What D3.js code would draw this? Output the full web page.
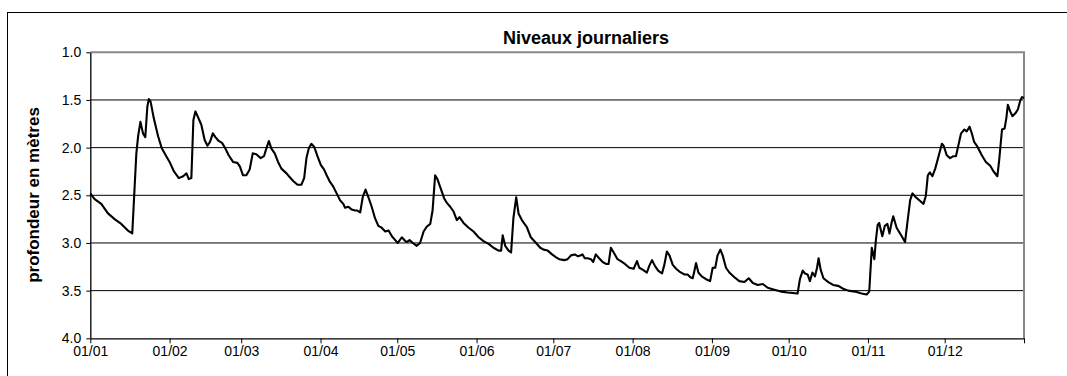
<!DOCTYPE html>
<html>
<head>
<meta charset="utf-8">
<script src="https://cdn.jsdelivr.net/npm/d3@7"></script>
<style>
  html, body { margin: 0; padding: 0; background: #fff; }
  svg { display: block; font-family: "Liberation Sans", Arial, sans-serif; }
</style>
</head>
<body>
<svg id="chart" width="1067" height="376"></svg>
<script>
// ---- Data ----
const chartTitle = "Niveaux journaliers";
const yAxisTitle = "profondeur en mètres";
const monthLabels = ["01/01","01/02","01/03","01/04","01/05","01/06","01/07","01/08","01/09","01/10","01/11","01/12",""];
const monthStartDays = [0,31,59,90,120,151,181,212,243,273,304,334,365];
const depthTicks = [1.0,1.5,2.0,2.5,3.0,3.5,4.0];
const dayOfYear = [
0,1.7,4.3,6.9,9.5,12.1,14.7,16.4,18.0,18.7,19.6,20.6,21.5,22.3,22.9,23.6,24.8,26.5,28.0,29.7,
31.0,32.7,34.6,36.3,37.6,38.5,39.5,40.3,41.1,42.1,43.4,44.7,45.8,46.8,47.9,48.9,50.2,51.5,52.8,54.1,
55.8,57.5,58.5,59.7,61.0,62.3,63.5,64.9,66.6,67.9,68.8,69.8,70.8,72.1,73.4,74.7,76.7,78.0,79.3,81.0,
82.5,83.6,84.5,85.4,86.4,87.5,88.8,90.1,91.4,92.4,93.7,95.0,96.3,97.6,98.9,99.6,100.9,102.2,103.5,104.4,
105.5,106.5,107.6,108.7,110.0,111.3,112.6,113.9,115.3,116.6,117.9,119.2,120.2,121.8,123.1,123.7,124.8,126.1,127.6,128.9,
130.3,131.5,132.9,133.8,134.8,135.7,137.0,138.3,139.4,140.7,142.0,143.3,144.3,145.9,147.9,149.8,151.8,153.7,155.7,157.6,
159.6,160.6,161.2,162.2,163.5,164.5,165.4,166.5,167.4,168.7,170.6,172.2,173.9,175.9,177.2,178.8,180.5,182.1,183.3,185.3,
186.6,187.9,189.4,190.7,191.8,192.4,193.3,194.4,195.7,196.6,197.6,198.9,200.3,201.6,202.6,203.5,204.6,206.1,207.4,209.0,
210.7,212.4,212.9,213.7,214.6,215.9,217.6,218.5,219.6,220.7,222.0,223.5,224.4,225.4,226.4,227.7,229.0,230.3,232.2,233.5,
234.6,235.5,236.1,236.8,237.7,239.0,240.7,242.3,243.3,244.3,245.2,246.3,247.2,248.5,249.8,251.8,253.7,255.7,257.4,259.0,
260.9,262.9,264.8,267.4,270.0,272.6,276.5,277.4,278.5,279.4,280.4,281.3,282.3,283.3,284.1,284.7,285.5,286.6,288.5,290.4,
292.4,294.3,296.3,298.9,301.5,303.5,304.5,305.5,306.5,307.1,307.8,308.4,309.6,310.6,311.6,312.4,313.3,313.9,315.2,317.2,
318.5,319.4,320.5,321.4,322.7,324.4,325.7,326.6,327.4,328.2,329.2,330.3,331.6,332.9,333.6,334.8,336.1,337.4,338.4,339.4,
340.4,341.7,342.6,343.7,344.6,345.5,346.8,348.5,350.1,351.8,353.1,354.6,355.3,356.4,357.4,358.1,358.7,359.6,360.5,361.6,
362.6,363.5,364.2,365.0
];
const depth = [
2.48,2.54,2.59,2.69,2.75,2.80,2.87,2.90,2.06,1.88,1.73,1.85,1.89,1.57,1.49,1.52,1.69,1.88,2.01,2.09,
2.15,2.25,2.32,2.30,2.27,2.33,2.32,1.71,1.62,1.68,1.76,1.92,1.98,1.94,1.85,1.89,1.93,1.95,2.01,2.08,
2.15,2.16,2.20,2.29,2.29,2.23,2.06,2.07,2.11,2.09,2.01,1.93,2.01,2.06,2.15,2.22,2.27,2.31,2.35,2.39,
2.39,2.32,2.11,2.01,1.96,1.99,2.09,2.18,2.23,2.29,2.36,2.41,2.48,2.55,2.59,2.63,2.62,2.65,2.66,2.66,
2.68,2.52,2.44,2.52,2.62,2.74,2.82,2.84,2.88,2.87,2.93,2.97,3.00,2.94,2.98,2.99,2.97,3.00,3.03,3.00,
2.88,2.83,2.80,2.66,2.29,2.33,2.43,2.53,2.58,2.62,2.67,2.76,2.73,2.79,2.84,2.88,2.94,2.98,3.01,3.05,
3.08,3.08,2.92,3.03,3.08,3.10,2.74,2.52,2.69,2.76,2.83,2.94,2.99,3.05,3.07,3.08,3.12,3.15,3.17,3.18,
3.17,3.13,3.12,3.14,3.13,3.12,3.16,3.16,3.17,3.20,3.12,3.16,3.20,3.22,3.22,3.05,3.10,3.17,3.19,3.22,
3.26,3.27,3.24,3.19,3.26,3.28,3.31,3.24,3.18,3.24,3.29,3.32,3.23,3.09,3.13,3.23,3.27,3.30,3.33,3.33,
3.36,3.37,3.30,3.21,3.31,3.35,3.38,3.40,3.26,3.26,3.13,3.07,3.13,3.26,3.31,3.36,3.40,3.41,3.37,3.42,
3.44,3.43,3.47,3.49,3.51,3.52,3.53,3.38,3.29,3.32,3.33,3.40,3.31,3.35,3.26,3.16,3.28,3.37,3.41,3.44,
3.45,3.48,3.50,3.51,3.53,3.54,3.51,3.05,3.17,2.97,2.81,2.79,2.93,2.82,2.80,2.90,2.78,2.72,2.84,2.93,
2.99,2.79,2.55,2.48,2.52,2.56,2.59,2.51,2.29,2.26,2.30,2.22,2.09,1.96,1.98,2.08,2.11,2.09,2.09,1.97,
1.85,1.81,1.83,1.78,1.85,1.94,1.99,2.08,2.15,2.19,2.25,2.30,2.13,1.81,1.80,1.69,1.55,1.62,1.67,1.64,
1.60,1.51,1.47,1.48
];

// ---- Layout ----
const svg = d3.select("#chart");
const plotL = 90.3, plotR = 1024, plotT = 52.3, plotB = 338.3;

const x = d3.scaleLinear().domain([0, 365]).range([plotL, plotR]);
const y = d3.scaleLinear().domain([1.0, 4.0]).range([plotT, plotB]);

// Outer chart frame (only left and top edges fall inside the picture)
svg.append("rect")
  .attr("x", 7.5).attr("y", 12.5)
  .attr("width", 1200).attr("height", 500)
  .attr("fill", "none").attr("stroke", "#000").attr("stroke-width", 1);

// Title
svg.append("text")
  .attr("x", 586).attr("y", 43.5)
  .attr("text-anchor", "middle")
  .attr("font-weight", "bold")
  .attr("font-size", 18)
  .text(chartTitle);

// Horizontal gridlines
svg.append("g").selectAll("line")
  .data(depthTicks.filter(d => d > 1.0 && d < 4.0))
  .join("line")
  .attr("x1", plotL).attr("x2", plotR)
  .attr("y1", d => y(d)).attr("y2", d => y(d))
  .attr("stroke", "#000").attr("stroke-width", 1);

// Plot area border (gray top / right)
svg.append("path")
  .attr("d", `M${plotL},${plotT}H${plotR}V${plotB}`)
  .attr("fill", "none").attr("stroke", "#888").attr("stroke-width", 2);

// Y axis
const yAxis = d3.axisLeft(y).tickValues(depthTicks).tickFormat(d3.format(".1f")).tickSize(4).tickSizeOuter(0);
const gy = svg.append("g").attr("transform", `translate(${plotL},0)`).call(yAxis);
gy.select(".domain").attr("stroke", "#000").attr("stroke-width", 1.3);
gy.selectAll(".tick line").attr("stroke", "#000");
gy.selectAll(".tick text").attr("font-size", 14).attr("font-family", "Liberation Sans, Arial, sans-serif").attr("fill", "#000").attr("x", -9);

// X axis
const xAxis = d3.axisBottom(x).tickValues(monthStartDays)
  .tickFormat((d, i) => monthLabels[i]).tickSize(5).tickSizeOuter(0);
const gx = svg.append("g").attr("transform", `translate(0,${plotB})`).call(xAxis);
gx.select(".domain").attr("stroke", "#000").attr("stroke-width", 1.3);
gx.selectAll(".tick line").attr("stroke", "#000");
gx.selectAll(".tick text").attr("font-size", 14).attr("font-family", "Liberation Sans, Arial, sans-serif").attr("fill", "#000");

// Y axis title
svg.append("text")
  .attr("transform", `translate(39,195) rotate(-90)`)
  .attr("text-anchor", "middle")
  .attr("font-weight", "bold")
  .attr("font-size", 17)
  .text(yAxisTitle);

// Series line
const series = dayOfYear.map((d, i) => ({ d, v: depth[i] }));
svg.append("path")
  .datum(series)
  .attr("fill", "none")
  .attr("stroke", "#000")
  .attr("stroke-width", 2.1)
  .attr("stroke-linejoin", "round")
  .attr("d", d3.line().x(p => x(p.d)).y(p => y(p.v)));
</script>
</body>
</html>
